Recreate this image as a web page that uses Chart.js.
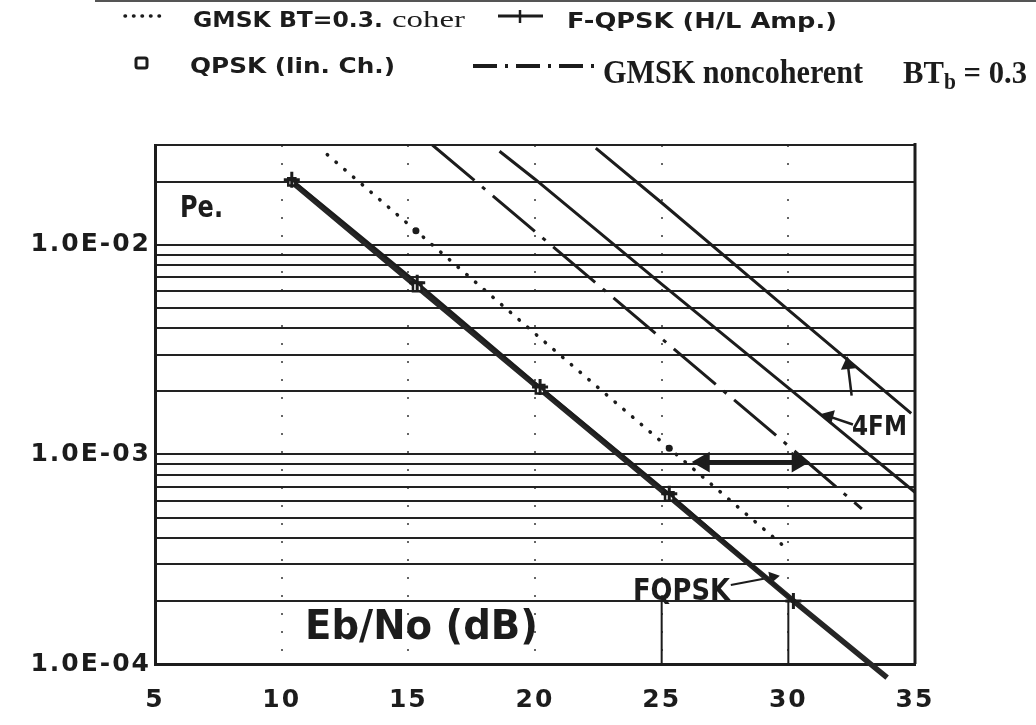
<!DOCTYPE html>
<html>
<head>
<meta charset="utf-8">
<script src="https://cdn.jsdelivr.net/npm/chart.js@4.4.1/dist/chart.umd.min.js"></script>
<style>
  body { margin: 0; background: #fff; overflow: hidden; }
  #wrap { position: relative; width: 1036px; height: 725px; background: #fff; }
  #chart { position: absolute; left: 0; top: 0; }
  #deco { position: absolute; left: 0; top: 0; pointer-events: none; }
  .t { position: absolute; white-space: nowrap; line-height: 1; color: #1c1c1c; transform-origin: 0 0; }
  .sans { font-family: "DejaVu Sans", sans-serif; font-weight: bold; }
  .serif { font-family: "Liberation Serif", serif; font-weight: bold; }
  .serif sub { font-size: 0.7em; vertical-align: -0.25em; line-height: 0; }
</style>
</head>
<body>
<div id="wrap">
  <canvas id="chart" width="1036" height="725"></canvas>

  <!-- legend samples + top rule of the scanned page -->
  <svg id="deco" width="1036" height="725">
    <line x1="95" y1="1" x2="1036" y2="1" stroke="#555" stroke-width="2"/>
    <line x1="125" y1="16" x2="166" y2="16" stroke="#1c1c1c" stroke-width="3.5" stroke-dasharray="0.5 8" stroke-linecap="round"/>
    <line x1="498" y1="16" x2="543" y2="16" stroke="#1c1c1c" stroke-width="3"/>
    <line x1="520" y1="10" x2="520" y2="23" stroke="#1c1c1c" stroke-width="2.5"/>
    <rect x="136" y="58" width="11" height="10" rx="2" fill="none" stroke="#1c1c1c" stroke-width="3"/>
    <line x1="473" y1="66" x2="597" y2="66" stroke="#1c1c1c" stroke-width="4" stroke-dasharray="24 8 3 8"/>
  </svg>

  <div class="t sans" data-w="190" style="left:193px;top:9.6px;font-size:21px">GMSK BT=0.3.</div>
  <div class="t serif" data-w="73" style="left:392px;top:8px;font-size:23px;font-weight:normal">coher</div>
  <div class="t sans" data-w="270" style="left:567px;top:10.6px;font-size:21px">F-QPSK (H/L Amp.)</div>
  <div class="t sans" data-w="205" style="left:190px;top:55.6px;font-size:21px">QPSK (lin. Ch.)</div>
  <div class="t serif" data-w="260" style="left:603px;top:56.2px;font-size:33px">GMSK noncoherent</div>
  <div class="t serif" data-w="124" style="left:903px;top:56.4px;font-size:32px">BT<sub>b</sub> = 0.3</div>

  <div class="t sans" data-w="43" style="left:180px;top:191.5px;font-size:30px">Pe.</div>
  <div class="t sans" data-w="233" style="left:305px;top:605px;font-size:41px">Eb/No (dB)</div>
  <div class="t sans" data-w="97" style="left:633px;top:574.5px;font-size:30px;font-weight:600">FQPSK</div>
  <div class="t sans" data-w="55" style="left:852px;top:412px;font-size:27px;font-weight:600">4FM</div>
</div>

<script>
// axis labels
const xTickLabels = ['5', '10', '15', '20', '25', '30', '35'];
const yLabelValues = [1e-4, 1e-3, 1e-2];
const yLabelText = ['1.0E-04', '1.0E-03', '1.0E-02'];
const yGridMantissas = [1, 2, 3, 4, 5, 6, 7, 8, 9];
const yGridDecades = [1e-4, 1e-3, 1e-2];
const yMax = 3e-2;

// QPSK (lin. Ch.)
const qpskEbNo = [10.4, 15.35, 20.2, 25.3, 30.2, 33.9];
const qpskPe = [2.0e-2, 6.3e-3, 2.05e-3, 6.3e-4, 2.0e-4, 8.6e-5];

// F-QPSK (H/L Amp.)
const fqpskEbNo = [10.4, 15.35, 20.2, 25.3, 30.2];
const fqpskPe = [2.05e-2, 6.6e-3, 2.1e-3, 6.5e-4, 2.0e-4];

// GMSK BT=0.3 coherent
const gmskCohEbNo = [11.8, 15.3, 20.2, 25.3, 30.0];
const gmskCohPe = [2.7e-2, 1.17e-2, 3.6e-3, 1.07e-3, 3.5e-4];

// GMSK noncoherent
const gmskNcEbNo = [15.95, 20, 25, 30, 32.9];
const gmskNcPe = [3.0e-2, 1.16e-2, 3.57e-3, 1.1e-3, 5.5e-4];

// 4FM (two curves)
const fm4UpperEbNo = [22.4, 25, 30, 34.85];
const fm4UpperPe = [2.9e-2, 1.59e-2, 4.9e-3, 1.57e-3];
const fm4LowerEbNo = [18.6, 20, 25, 30, 35];
const fm4LowerPe = [2.8e-2, 2.06e-2, 6.5e-3, 2.08e-3, 6.6e-4];

// annotation arrows
const gapArrowEbNo = [26.66, 30.37];
const gapArrowPe = [9.2e-4, 9.2e-4];
const fqpskPointerEbNo = [27.73, 29.39];
const fqpskPointerPe = [2.38e-4, 2.6e-4];
const fm4PointerEbNo = [32.55, 31.6];
const fm4PointerPe = [1.39e-3, 1.52e-3];
const fm4UpEbNo = [32.5, 32.35];
const fm4UpPe = [1.91e-3, 2.68e-3];

// solid vertical segments in the bottom row of the grid
const xSolidLines = [25, 30];
const ySolidRange = [1e-4, 2e-4];

const ink = '#1c1c1c';

function pts(xs, ys) {
  return xs.map((x, i) => ({ x: x, y: ys[i] }));
}

const yGridValues = [];
yGridDecades.forEach(d => {
  yGridMantissas.forEach(m => {
    const v = m * d;
    if (v <= yMax * 1.0001) yGridValues.push(v);
  });
});

function sameVal(a, b) {
  return Math.abs(a - b) / b < 1e-6;
}

// stretch html texts to the widths seen in the scan
document.querySelectorAll('.t').forEach(el => {
  const w = +el.dataset.w;
  const actual = el.getBoundingClientRect().width;
  if (w && actual) el.style.transform = 'scaleX(' + (w / actual) + ')';
});

const framePlugin = {
  id: 'frame',
  beforeDraw(chart) {
    chart.ctx.letterSpacing = '2px';
  },
  beforeDatasetsDraw(chart) {
    const { ctx, chartArea, scales } = chart;
    ctx.save();
    ctx.strokeStyle = ink;
    ctx.lineWidth = 3;
    ctx.beginPath();
    ctx.moveTo(chartArea.right, chartArea.top - 2);
    ctx.lineTo(chartArea.right, chartArea.bottom);
    ctx.stroke();
    ctx.lineWidth = 2;
    xSolidLines.forEach(v => {
      const px = scales.x.getPixelForValue(v);
      ctx.beginPath();
      ctx.moveTo(px, scales.y.getPixelForValue(ySolidRange[0]));
      ctx.lineTo(px, scales.y.getPixelForValue(ySolidRange[1]));
      ctx.stroke();
    });
    ctx.restore();
  }
};

new Chart(document.getElementById('chart'), {
  type: 'scatter',
  data: {
    datasets: [
      {
        label: 'F-QPSK (H/L Amp.)',
        data: pts(fqpskEbNo, fqpskPe),
        showLine: true,
        borderColor: ink,
        borderWidth: 2.5,
        pointStyle: 'cross',
        pointRadius: 8,
        pointBorderWidth: 3,
        pointBorderColor: ink
      },
      {
        label: 'QPSK (lin. Ch.)',
        data: pts(qpskEbNo, qpskPe),
        showLine: true,
        clip: false,
        borderColor: '#262626',
        borderWidth: 5.5,
        pointStyle: 'rect',
        pointRadius: [5, 6, 6, 6, 0, 0],
        pointBackgroundColor: '#fff',
        pointBorderColor: ink,
        pointBorderWidth: 2.5
      },
      {
        label: 'GMSK BT=0.3 coherent',
        data: pts(gmskCohEbNo, gmskCohPe),
        showLine: true,
        borderColor: ink,
        borderWidth: 3.5,
        borderDash: [0.5, 11],
        borderCapStyle: 'round',
        pointRadius: [0, 3.5, 0, 3.5, 0],
        pointBackgroundColor: ink,
        pointBorderWidth: 0
      },
      {
        label: 'GMSK noncoherent',
        data: pts(gmskNcEbNo, gmskNcPe),
        showLine: true,
        borderColor: ink,
        borderWidth: 3,
        borderDash: [55, 10, 4, 10],
        pointRadius: 0
      },
      {
        label: '4FM upper',
        data: pts(fm4UpperEbNo, fm4UpperPe),
        showLine: true,
        borderColor: ink,
        borderWidth: 3,
        pointRadius: 0
      },
      {
        label: '4FM lower',
        data: pts(fm4LowerEbNo, fm4LowerPe),
        showLine: true,
        borderColor: ink,
        borderWidth: 3,
        pointRadius: 0
      },
      {
        label: 'gap arrow',
        data: pts(gapArrowEbNo, gapArrowPe),
        showLine: true,
        borderColor: ink,
        borderWidth: 4,
        pointStyle: 'triangle',
        pointRadius: 8,
        pointRotation: [-90, 90],
        pointBackgroundColor: ink,
        pointBorderColor: ink
      },
      {
        label: 'FQPSK pointer',
        data: pts(fqpskPointerEbNo, fqpskPointerPe),
        showLine: true,
        borderColor: ink,
        borderWidth: 2,
        pointStyle: 'triangle',
        pointRadius: [0, 5],
        pointRotation: 80,
        pointBackgroundColor: ink,
        pointBorderColor: ink
      },
      {
        label: '4FM pointer',
        data: pts(fm4PointerEbNo, fm4PointerPe),
        showLine: true,
        borderColor: ink,
        borderWidth: 2.5,
        pointStyle: 'triangle',
        pointRadius: [0, 6],
        pointRotation: -75,
        pointBackgroundColor: ink,
        pointBorderColor: ink
      },
      {
        label: '4FM up',
        data: pts(fm4UpEbNo, fm4UpPe),
        showLine: true,
        borderColor: ink,
        borderWidth: 2.5,
        pointStyle: 'triangle',
        pointRadius: [0, 6],
        pointRotation: -5,
        pointBackgroundColor: ink,
        pointBorderColor: ink
      }
    ]
  },
  options: {
    responsive: false,
    animation: false,
    layout: { padding: { top: 145, right: 121, left: 0, bottom: 0 } },
    plugins: {
      legend: { display: false },
      tooltip: { enabled: false }
    },
    scales: {
      x: {
        type: 'linear',
        min: 5,
        max: 35,
        afterFit: s => { s.height = 61; },
        ticks: {
          stepSize: 5,
          autoSkip: false,
          maxRotation: 0,
          padding: 21,
          color: ink,
          font: { family: 'DejaVu Sans', weight: 'bold', size: 25 },
          callback: (v, i) => xTickLabels[i]
        },
        grid: {
          drawTicks: false,
          lineWidth: 2,
          color: c => (c.tick && (c.tick.value === 5 || c.tick.value === 35)) ? 'rgba(0,0,0,0)' : '#666'
        },
        border: { color: ink, width: 3, dash: [2, 16] }
      },
      y: {
        type: 'logarithmic',
        min: 1e-4,
        max: yMax,
        afterFit: s => { s.width = 155; },
        afterBuildTicks: s => { s.ticks = yGridValues.map(v => ({ value: v })); },
        ticks: {
          autoSkip: false,
          padding: 4,
          color: ink,
          font: { family: 'DejaVu Sans', weight: 'bold', size: 25 },
          callback: v => {
            const i = yLabelValues.findIndex(t => sameVal(v, t));
            return i >= 0 ? yLabelText[i] : '';
          }
        },
        grid: { drawTicks: false, lineWidth: 2, color: '#222' },
        border: { color: ink, width: 3 }
      }
    }
  },
  plugins: [framePlugin]
});
</script>
</body>
</html>
